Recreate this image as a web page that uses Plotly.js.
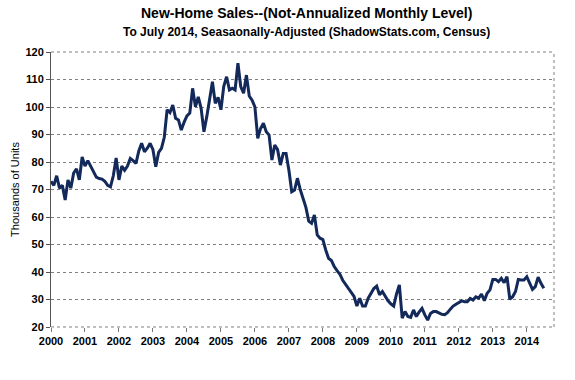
<!DOCTYPE html>
<html>
<head>
<meta charset="utf-8">
<script src="https://cdn.plot.ly/plotly-3.0.1.min.js"></script>
<style>html,body{margin:0;padding:0;background:#fff;}#chart{width:575px;height:380px;}</style>
</head>
<body>
<div id="chart"></div>
<script>
// Monthly new-home sales, thousands of units (not annualized), Jan 2000 .. Jul 2014
const sales = [
  // 2000
  73.0, 71.5, 75.0, 70.5, 71.5, 66.2, 73.5, 70.5, 76.0, 77.5, 73.5, 81.8,
  // 2001
  78.5, 80.5, 78.5, 76.5, 74.5, 74.0, 73.8, 73.0, 71.5, 71.0, 75.0, 81.5,
  // 2002
  73.5, 78.5, 77.0, 78.5, 81.3, 80.5, 79.5, 84.0, 86.8, 83.7, 85.0, 86.8,
  // 2003
  84.5, 78.3, 83.5, 85.0, 89.0, 99.0, 98.0, 100.7, 95.9, 95.3, 91.6, 94.5,
  // 2004
  96.8, 97.8, 106.8, 100.1, 103.7, 99.5, 91.0, 96.5, 102.5, 109.2, 101.3, 103.5,
  // 2005
  99.0, 107.5, 111.0, 106.2, 106.8, 106.2, 115.9, 107.4, 105.0, 111.6, 104.0, 102.5,
  // 2006
  100.0, 88.6, 92.2, 94.1, 91.0, 89.8, 80.7, 86.2, 84.5, 78.9, 83.1, 83.1,
  // 2007
  77.0, 69.2, 69.8, 74.1, 70.0, 66.5, 63.5, 58.5, 57.7, 60.7, 53.5, 52.3,
  // 2008
  51.8, 48.0, 45.0, 44.2, 42.0, 40.5, 39.2, 37.0, 35.5, 34.1, 32.3, 31.1,
  // 2009
  27.6, 30.5, 27.6, 27.6, 30.5, 32.5, 34.0, 34.9, 31.7, 32.9, 31.0, 29.5,
  // 2010
  28.4, 27.6, 32.0, 35.3, 23.2, 25.6, 23.8, 23.5, 26.2, 23.8, 25.5, 26.8,
  // 2011
  24.4, 22.5, 24.9, 25.6, 25.6, 25.2, 24.6, 24.5, 25.2, 26.5, 27.6, 28.3,
  // 2012
  28.8, 29.5, 29.2, 29.2, 30.4, 29.8, 31.0, 30.5, 32.0, 29.6, 32.3, 33.5,
  // 2013
  37.3, 37.3, 36.5, 37.7, 36.1, 38.3, 30.1, 31.0, 32.9, 37.3, 37.1, 37.1,
  // 2014
  38.3, 35.9, 33.7, 34.7, 38.1, 35.9, 34.1
];
const years = ["2000","2001","2002","2003","2004","2005","2006","2007","2008","2009","2010","2011","2012","2013","2014"];
const yTicks = [20, 30, 40, 50, 60, 70, 80, 90, 100, 110, 120];
const titleText = 'New-Home Sales--(Not-Annualized Monthly Level)';
const subtitleText = 'To July 2014, Seasaonally-Adjusted (ShadowStats.com, Census)';

const monthIndex = sales.map((_, i) => i);
const yearTickPos = years.map((_, i) => i * 12);

const trace = {
  x: monthIndex,
  y: sales,
  type: 'scatter',
  mode: 'lines',
  line: {color: '#12295a', width: 3},
  hoverinfo: 'skip'
};

const FONT = '"Liberation Sans", Arial, sans-serif';

const layout = {
  width: 575, height: 380,
  margin: {l: 51, r: 21, t: 52, b: 53},
  paper_bgcolor: '#ffffff',
  plot_bgcolor: '#ffffff',
  showlegend: false,
  font: {family: FONT, color: '#000'},
  xaxis: {
    range: [0, 177.6],
    tickmode: 'array',
    tickvals: yearTickPos,
    ticktext: years,
    ticks: 'outside', ticklen: 4, tickcolor: '#777', tickwidth: 1,
    showgrid: false, zeroline: false, showline: false,
    tickfont: {size: 11, weight: 'bold', color: '#000'},
    fixedrange: true
  },
  yaxis: {
    range: [20, 120],
    tickmode: 'array',
    tickvals: yTicks,
    ticks: 'outside', ticklen: 4, tickcolor: '#555', tickwidth: 1,
    showgrid: true, gridcolor: '#808080', griddash: 'dot', gridwidth: 1,
    zeroline: false,
    showline: true, linecolor: '#555', linewidth: 1,
    tickfont: {size: 11, weight: 'bold', color: '#000'},
    title: {text: 'Thousands of Units', font: {size: 11, color: '#000'}, standoff: 3},
    fixedrange: true
  },
  annotations: [
    {text: '<b>' + titleText + '</b>', xref: 'paper', yref: 'paper',
     x: 0.5, y: 1, xanchor: 'center', yanchor: 'bottom', yshift: 29,
     xshift: 4, showarrow: false, font: {size: 14, family: FONT, color: '#000'}},
    {text: '<b>' + subtitleText + '</b>', xref: 'paper', yref: 'paper',
     x: 0.5, y: 1, xanchor: 'center', yanchor: 'bottom', yshift: 11,
     xshift: 4, showarrow: false, font: {size: 12, family: FONT, color: '#000'}}
  ],
  shapes: [
    {type: 'line', xref: 'paper', yref: 'paper', x0: 1, x1: 1, y0: 0, y1: 1,
     line: {color: '#808080', width: 1, dash: 'dot'}},
    {type: 'line', xref: 'paper', yref: 'paper', x0: 0, x1: 1, y0: 1, y1: 1,
     line: {color: '#808080', width: 1, dash: 'dot'}},
    {type: 'line', xref: 'paper', yref: 'paper', x0: 0, x1: 1, y0: 0, y1: 0,
     line: {color: '#808080', width: 1, dash: 'dot'}}
  ]
};

Plotly.newPlot('chart', [trace], layout, {displayModeBar: false, staticPlot: true});
</script>
</body>
</html>
